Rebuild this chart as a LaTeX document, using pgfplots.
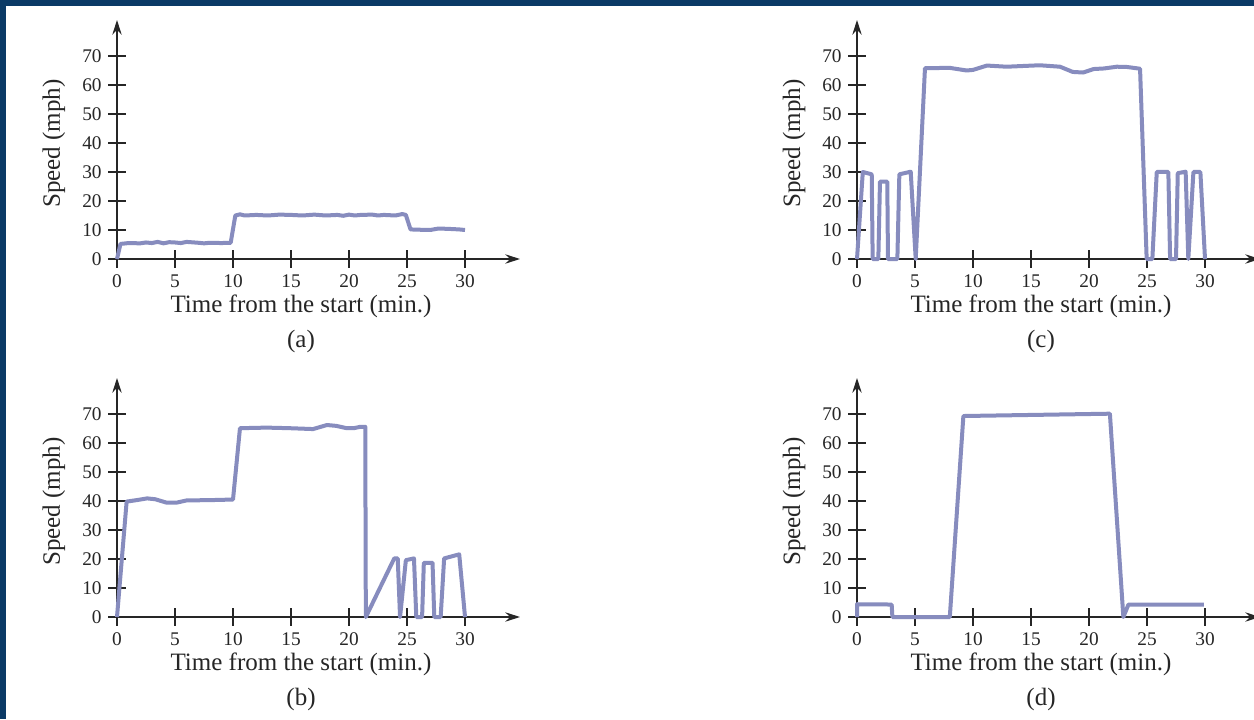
\documentclass[border=0pt]{standalone}
\usepackage{fontspec}
\setmainfont{Liberation Serif}
\usepackage{pgfplots}
\pgfplotsset{compat=1.18}
\usetikzlibrary{arrows.meta}
\definecolor{frameblue}{HTML}{0B3A66}
\definecolor{speedline}{HTML}{878CBE}
\definecolor{axisgray}{HTML}{262626}

\pgfplotsset{
  speedaxis/.style={
    scale only axis, width=302.25pt, height=179.25pt,
    anchor=south west,
    xmin=0, xmax=34.74, ymin=0, ymax=82.41,
    axis lines=left,
    axis line style={axisgray, line width=1.1pt, -{Stealth[length=11pt,width=7pt]}},
    xtick={0,5,...,30}, ytick={0,10,...,70},
    tick align=center, major tick length=13pt,
    tick style={axisgray, line width=1pt},
    /pgf/number format/assume math mode=true,
    ticklabel style={font=\fontsize{14.5}{16}\selectfont, text=axisgray},
    xticklabel style={anchor=base, yshift=-14.6pt},
    yticklabel style={xshift=-1.5pt},
    xlabel={Time from the start (min.)}, ylabel={Speed (mph)},
    label style={font=\fontsize{18.75}{22}\selectfont, text=axisgray},
    xlabel style={at={([yshift=-39.75pt]axis description cs:0.4566,0)}, anchor=base},
    ylabel style={at={([xshift=-42.75pt]axis description cs:0,0.483)}, anchor=base},
    clip=false,
  },
  speedplot/.style={speedline, line width=3pt, line join=round, no marks},
}
\newcommand\panel[1]{\node[font=\fontsize{18.75}{22}\selectfont, text=axisgray, anchor=base]
  at ([yshift=-66pt]axis description cs:0.4566,0) {(#1)};}

\begin{document}
\begin{tikzpicture}
\path[use as bounding box, fill=white] (0,0) rectangle (940.5pt,539.25pt);
\fill[frameblue] (0,534.75pt) rectangle (940.5pt,539.25pt);
\fill[frameblue] (0,0) rectangle (4.5pt,539.25pt);

% (a)
\begin{axis}[speedaxis, at={(87.75pt,345pt)}]
\addplot[speedplot] coordinates {
(0,0) (0.3,5.2) (1,5.5) (2,5.4) (2.5,5.7) (3,5.5) (3.5,5.9) (4,5.4) (4.5,5.8)
(5,5.7) (5.5,5.5) (6,5.9) (7,5.6) (7.5,5.4) (8,5.6) (9,5.5) (9.8,5.6)
(10.2,15.0) (10.6,15.4) (11,15.0) (12,15.2) (13,15.0) (14,15.3) (15,15.2)
(16,15.0) (17,15.3) (18,15.0) (19,15.2) (19.5,14.9) (20,15.3) (20.5,15.0)
(21,15.2) (22,15.3) (22.5,15.0) (23,15.2) (24,15.0) (24.6,15.5) (24.9,15.2)
(25.3,10.2) (26,10.1) (27,10.0) (27.7,10.5) (28.5,10.4) (29.5,10.2) (30,10)};
\panel{a}
\end{axis}

% (c)
\begin{axis}[speedaxis, at={(642.75pt,345pt)}]
\addplot[speedplot] coordinates {
(0,0) (0.5,30) (1.27,29.2) (1.35,0) (1.84,0) (1.98,26.7) (2.61,26.7) (2.67,0)
(3.48,0) (3.65,29.2) (4.63,30.1) (5.06,0) (5.86,65.8) (8.0,65.9) (9.45,65)
(10.0,65.2) (11.2,66.7) (12.9,66.3) (14.6,66.6) (15.75,66.8) (17.5,66.3)
(18.6,64.5) (19.5,64.3) (20.4,65.5) (21.3,65.7) (22.4,66.3) (23.3,66.2)
(24.4,65.6) (24.97,0) (25.46,0) (25.84,30) (26.84,30) (26.99,0) (27.5,0)
(27.65,29.6) (28.33,30.1) (28.56,0) (29.0,30) (29.6,30) (30.0,0)};
\panel{c}
\end{axis}

% (b)
\begin{axis}[speedaxis, at={(87.75pt,76.5pt)}]
\addplot[speedplot] coordinates {
(0,0) (0.83,39.8) (1.7,40.3) (2.6,40.9) (3.3,40.6) (4.3,39.4) (5.1,39.4)
(6.0,40.2) (8,40.3) (10.0,40.5) (10.6,65.1) (12.9,65.3) (14.9,65.1)
(16.9,64.8) (18.1,66.2) (18.9,65.9) (19.8,65.1) (20.4,65.1) (21.0,65.6)
(21.4,65.6) (21.45,0) (23.9,20.2) (24.2,20.2) (24.4,0) (24.9,19.6)
(25.6,20.2) (25.8,0) (26.3,0) (26.45,18.7) (27.2,18.7) (27.35,0) (27.9,0)
(28.2,20.2) (29.5,21.6) (30.0,0)};
\panel{b}
\end{axis}

% (d)
\begin{axis}[speedaxis, at={(642.75pt,76.5pt)}]
\addplot[speedplot] coordinates {
(0,0) (0,4.4) (2.99,4.3) (3.05,0) (8.0,0) (9.17,69.3) (21.8,70.1)
(22.96,0) (23.4,4.3) (29.9,4.3)};
\panel{d}
\end{axis}
\end{tikzpicture}
\end{document}
